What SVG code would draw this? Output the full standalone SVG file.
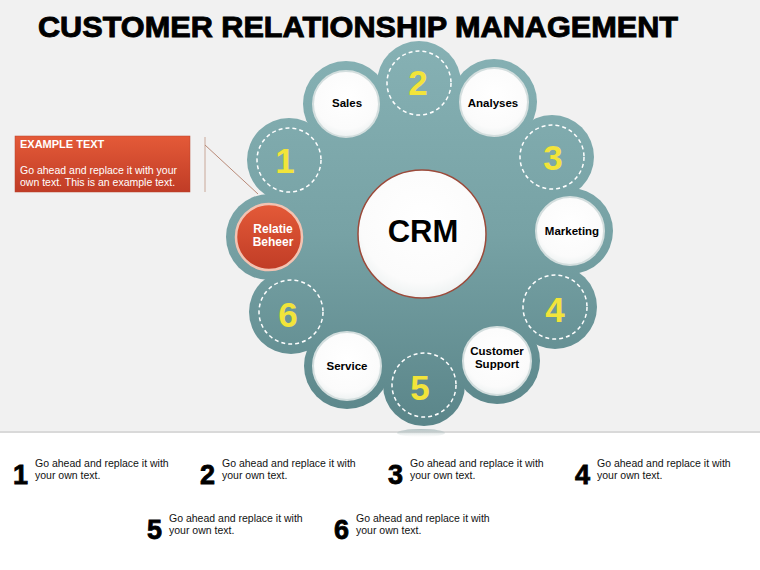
<svg xmlns="http://www.w3.org/2000/svg" width="760" height="570" viewBox="0 0 760 570">
<defs>
<linearGradient id="teal" gradientUnits="userSpaceOnUse" x1="0" y1="40" x2="0" y2="428">
<stop offset="0" stop-color="#86b1b4"/>
<stop offset="0.5" stop-color="#77a2a5"/>
<stop offset="1" stop-color="#5a8589"/>
</linearGradient>
<linearGradient id="red" x1="0" y1="0" x2="0" y2="1">
<stop offset="0" stop-color="#e45a38"/>
<stop offset="1" stop-color="#c03c26"/>
</linearGradient>
<radialGradient id="white" cx="0.5" cy="0.4" r="0.6">
<stop offset="0" stop-color="#ffffff"/>
<stop offset="0.8" stop-color="#fbfbfb"/>
<stop offset="1" stop-color="#eef2f2"/>
</radialGradient>
<linearGradient id="refl" x1="0" y1="0" x2="0" y2="1">
<stop offset="0" stop-color="#9fb3b4" stop-opacity="0.8"/>
<stop offset="1" stop-color="#d0d8d8" stop-opacity="0"/>
</linearGradient>
<style>
.title{font-family:"Liberation Sans",Arial,sans-serif;font-weight:bold;font-size:29px;fill:#000;stroke:#000;stroke-width:0.9px}
.num{font-family:"Liberation Sans",Arial,sans-serif;font-weight:bold;font-size:35px;fill:#f2e43a;text-anchor:middle}
.dash{fill:none;stroke:#ffffff;stroke-width:1.5;stroke-dasharray:4 3}
.node{fill:url(#white);stroke:#d3dede;stroke-width:2}
.lbl{font-family:"Liberation Sans",Arial,sans-serif;font-weight:bold;font-size:11.5px;fill:#000;text-anchor:middle}
.wl{font-family:"Liberation Sans",Arial,sans-serif;font-weight:bold;font-size:12px;fill:#fff;text-anchor:middle}
.body{font-family:"Liberation Sans",Arial,sans-serif;font-size:10.5px;fill:#111}
.bignum{font-family:"Liberation Sans",Arial,sans-serif;font-weight:bold;font-size:27px;fill:#000;stroke:#000;stroke-width:0.8px}
</style>
</defs>
<rect x="0" y="0" width="760" height="570" fill="#f1f1f1"/>
<text class="title" x="38" y="37" textLength="640" lengthAdjust="spacingAndGlyphs">CUSTOMER RELATIONSHIP MANAGEMENT</text>

<rect x="0" y="432" width="760" height="138" fill="#ffffff"/>
<line x1="0" y1="432" x2="760" y2="432" stroke="#d9d9d9" stroke-width="2"/>
<ellipse cx="421" cy="433" rx="24" ry="4" fill="url(#refl)"/>

<g id="wheel" fill="url(#teal)">
<circle cx="421" cy="234" r="154"/>
<circle cx="419" cy="83" r="42"/>
<circle cx="494" cy="102" r="43"/>
<circle cx="552" cy="157" r="42"/>
<circle cx="570" cy="231" r="43"/>
<circle cx="555" cy="307" r="42"/>
<circle cx="497" cy="361" r="43"/>
<circle cx="424" cy="385" r="41"/>
<circle cx="347" cy="366" r="43"/>
<circle cx="291" cy="312" r="42"/>
<circle cx="269" cy="237" r="43"/>
<circle cx="289" cy="160" r="42"/>
<circle cx="346" cy="104" r="43"/>
</g>

<g id="connectors">
<line x1="205" y1="137" x2="205" y2="192" stroke="#c9a899" stroke-width="1"/>
<line x1="205" y1="145" x2="258" y2="194" stroke="#b88a78" stroke-width="1"/>
</g>

<g id="callout">
<rect x="15" y="136" width="175" height="56" fill="url(#red)" stroke="#b8432e" stroke-width="0.5"/>
<text x="20" y="148" font-family="Liberation Sans, Arial, sans-serif" font-weight="bold" font-size="11" fill="#fff">EXAMPLE TEXT</text>
<text x="20" y="174" font-family="Liberation Sans, Arial, sans-serif" font-size="10.5" fill="#fff">Go ahead and replace it with your</text>
<text x="20" y="186" font-family="Liberation Sans, Arial, sans-serif" font-size="10.5" fill="#fff">own text. This is an example text.</text>
</g>

<g id="crm">
<circle cx="422" cy="234" r="64" fill="url(#white)" stroke="#9c4a3a" stroke-width="1.5"/>
<text x="423" y="242" font-family="Liberation Sans, Arial, sans-serif" font-weight="bold" font-size="31" fill="#000" text-anchor="middle">CRM</text>
</g>

<g id="n1"><circle class="dash" cx="289" cy="160" r="32"/><text class="num" x="285" y="173">1</text></g>
<g id="n2"><circle class="dash" cx="419" cy="83" r="32"/><text class="num" x="418" y="95">2</text></g>
<g id="n3"><circle class="dash" cx="552" cy="157" r="32"/><text class="num" x="553" y="170">3</text></g>
<g id="n4"><circle class="dash" cx="555" cy="307" r="32"/><text class="num" x="555" y="322">4</text></g>
<g id="n5"><circle class="dash" cx="424" cy="385" r="32"/><text class="num" x="420" y="400">5</text></g>
<g id="n6"><circle class="dash" cx="291" cy="312" r="32"/><text class="num" x="288" y="327">6</text></g>

<g id="sales"><circle class="node" cx="346" cy="104" r="33"/><text class="lbl" x="347" y="107">Sales</text></g>
<g id="analyses"><circle class="node" cx="494" cy="102" r="34"/><text class="lbl" x="493" y="107">Analyses</text></g>
<g id="marketing"><circle class="node" cx="570" cy="231" r="34"/><text class="lbl" x="572" y="235">Marketing</text></g>
<g id="customer-support"><circle class="node" cx="497" cy="361" r="34"/><text class="lbl" x="497" y="355">Customer</text><text class="lbl" x="497" y="368">Support</text></g>
<g id="service"><circle class="node" cx="347" cy="366" r="34"/><text class="lbl" x="347" y="370">Service</text></g>
<g id="relatie-beheer"><circle cx="269" cy="237" r="33" fill="url(#red)" stroke="#f3c3b2" stroke-width="2.5"/><text class="wl" x="273" y="233">Relatie</text><text class="wl" x="273" y="246">Beheer</text></g>

<g id="legend">
<text class="bignum" x="13" y="484">1</text>
<text class="body" x="35" y="467">Go ahead and replace it with</text>
<text class="body" x="35" y="479">your own text.</text>
<text class="bignum" x="200" y="484">2</text>
<text class="body" x="222" y="467">Go ahead and replace it with</text>
<text class="body" x="222" y="479">your own text.</text>
<text class="bignum" x="388" y="484">3</text>
<text class="body" x="410" y="467">Go ahead and replace it with</text>
<text class="body" x="410" y="479">your own text.</text>
<text class="bignum" x="575" y="484">4</text>
<text class="body" x="597" y="467">Go ahead and replace it with</text>
<text class="body" x="597" y="479">your own text.</text>
<text class="bignum" x="147" y="539">5</text>
<text class="body" x="169" y="522">Go ahead and replace it with</text>
<text class="body" x="169" y="534">your own text.</text>
<text class="bignum" x="334" y="539">6</text>
<text class="body" x="356" y="522">Go ahead and replace it with</text>
<text class="body" x="356" y="534">your own text.</text>
</g>
</svg>
